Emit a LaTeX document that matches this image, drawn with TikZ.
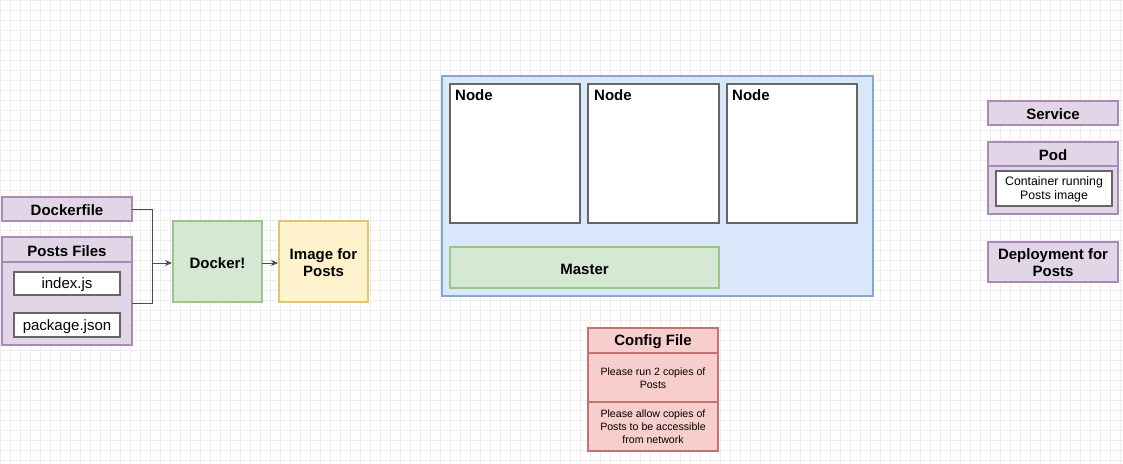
\documentclass[tikz,border=0pt]{standalone}
\usepackage{fontspec}
\setmainfont{Liberation Sans}
\usetikzlibrary{arrows.meta}
\definecolor{pfill}{HTML}{E1D5E7}\definecolor{pline}{HTML}{A58BB5}
\definecolor{gfill}{HTML}{D5E8D4}\definecolor{gline}{HTML}{9CC38A}
\definecolor{yfill}{HTML}{FFF2CC}\definecolor{yline}{HTML}{E0C670}
\definecolor{bfill}{HTML}{DAE8FC}\definecolor{bline}{HTML}{8AA6D0}
\definecolor{rfill}{HTML}{F8CECC}\definecolor{rline}{HTML}{C57370}
\definecolor{gridc}{HTML}{EDEDED}
\begin{document}
\begin{tikzpicture}[x=1pt,y=-1pt,
  purp/.style={draw=pline,fill=pfill,line width=1.1pt},
  grn/.style={draw=gline,fill=gfill,line width=1.1pt},
  yel/.style={draw=yline,fill=yfill,line width=1.1pt},
  blu/.style={draw=bline,fill=bfill,line width=1.1pt},
  red/.style={draw=rline,fill=rfill,line width=1.1pt},
  wht/.style={draw=black!60,fill=white,line width=1.1pt},
  big/.style={font=\fontsize{15}{17}\selectfont\bfseries,align=center},
  mid/.style={font=\fontsize{15}{17}\selectfont,align=center},
  small/.style={font=\fontsize{10.6}{13}\selectfont,align=center},
  conn/.style={draw=black!70,line width=0.9pt,-{Stealth[length=7pt,width=6pt]}}]
\useasboundingbox (0,0) rectangle (1123,463);
\fill[white] (0,0) rectangle (1123,463);
\foreach \gx in {0,10,...,1120} \draw[gridc,line width=0.5pt] (\gx,0) -- (\gx,463);
\foreach \gy in {0,10,...,460} \draw[gridc,line width=0.5pt] (0,\gy) -- (1123,\gy);
% Dockerfile
\draw[purp] (2,197) rectangle (132,221);
\node[big] (df) at (67,210) {Dockerfile};
% Posts files
\draw[purp] (2,237) rectangle (132,345);
\draw[pline,line width=1.1pt] (2,262) -- (132,262);
\node[big] (pf) at (67,251) {Posts Files};
\draw[wht] (14,272) rectangle (120,295);
\node[mid] (ij) at (67,285) {index.js};
\draw[wht] (14,313) rectangle (120,337);
\node[mid] (pj) at (67,326.5) {package.json};
\coordinate (dfr) at (132,209);
\coordinate (pfr) at (132,303);
% Docker
\draw[grn] (173,221) rectangle (262,302);
\node[big] (dk) at (217.5,263) {Docker!};
\coordinate (dkl) at (172,263);
\coordinate (dkr) at (262,263);
% Image
\draw[yel] (279,221) rectangle (368,302);
\node[big] (im) at (323.5,263) {Image for\\Posts};
\coordinate (iml) at (278,263);
\draw[conn] (dfr) -- (152,209) -- (152,263) -- (dkl);
\draw[draw=black!70,line width=0.9pt] (pfr) -- (152,303) -- (152,263);
\draw[conn] (dkr) -- (iml);
% Cluster
\draw[blu] (442,76) rectangle (873,296);
\draw[wht] (450,84) rectangle (580,223);
\node[big,anchor=north west,inner sep=0pt] (n1) at (455,89) {Node};
\draw[wht] (588,84) rectangle (719,223);
\node[big,anchor=north west,inner sep=0pt] (n2) at (594,89) {Node};
\draw[wht] (727,84) rectangle (857,223);
\node[big,anchor=north west,inner sep=0pt] (n3) at (732,89) {Node};
\draw[grn] (450,247) rectangle (719,288);
\node[big] (ms) at (584.5,269) {Master};
% Config
\draw[red] (588,328) rectangle (718,451);
\draw[rline,line width=1.1pt] (588,353) -- (718,353);
\draw[rline,line width=1.1pt] (588,402) -- (718,402);
\node[big] (cf) at (653,342) {Config File};
\node[small] (c1) at (653,378.5) {Please run 2 copies of\\Posts};
\node[small] (c2) at (653,426.5) {Please allow copies of\\Posts to be accessible\\from network};
% Right legend
\draw[purp] (988,101) rectangle (1118,125);
\node[big] (sv) at (1053,114) {Service};
\draw[purp] (988,142) rectangle (1118,214);
\draw[pline,line width=1.1pt] (988,166) -- (1118,166);
\node[big] (pod) at (1053,155.5) {Pod};
\draw[wht] (996,171) rectangle (1112,206);
\node[font=\fontsize{12.3}{14.5}\selectfont,align=center] (ct) at (1054,189.5) {Container running\\Posts image};
\draw[purp] (988,242) rectangle (1118,282);
\node[big] (dp) at (1053,263) {Deployment for\\Posts};
\end{tikzpicture}
\end{document}
